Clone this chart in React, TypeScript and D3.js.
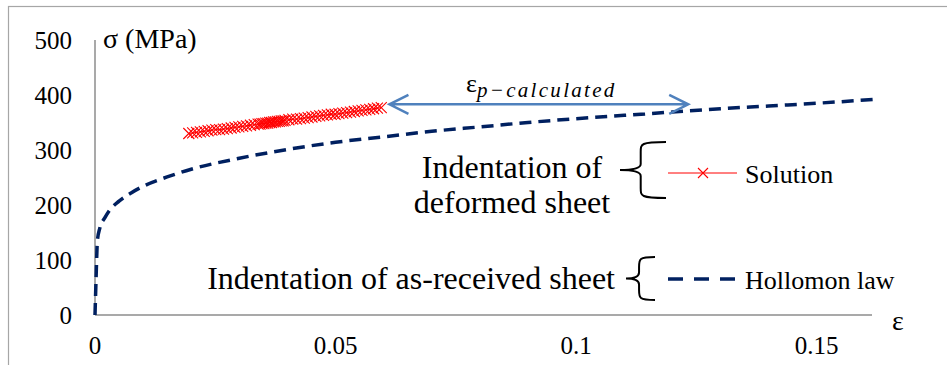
import React, { useEffect, useRef } from 'react';
import * as d3 from 'd3';

// Hollomon law curve
const hollomonStrain = [0, 0.0002, 0.0005, 0.001, 0.002, 0.003, 0.005, 0.0075, 0.01, 0.015, 0.02, 0.03, 0.04, 0.05, 0.06, 0.07, 0.08, 0.09, 0.1, 0.11, 0.12, 0.13, 0.14, 0.15, 0.162];
const hollomonStress = [0, 60, 135, 158, 176, 190, 207, 222, 234, 251, 265, 285, 301, 314, 324, 334, 342, 350, 357, 363, 369, 375, 380, 385, 392];

// Solution points (indentation of deformed sheet)
const solutionStrain = [0.0195, 0.0203, 0.0211, 0.0219, 0.0227, 0.0235, 0.0243, 0.0251, 0.0259, 0.0267, 0.0275, 0.0283, 0.0291, 0.0299, 0.0307, 0.0315, 0.0323, 0.0331, 0.0339, 0.0343, 0.0347, 0.0351, 0.0355, 0.0359, 0.0363, 0.0367, 0.0371, 0.0375, 0.0379, 0.0383, 0.0387, 0.0391, 0.0395, 0.0403, 0.0411, 0.0419, 0.0427, 0.0435, 0.0443, 0.0451, 0.0459, 0.0467, 0.0475, 0.0483, 0.0491, 0.0499, 0.0507, 0.0515, 0.0523, 0.0531, 0.0539, 0.0547, 0.0555, 0.0563, 0.0571, 0.0579, 0.0587, 0.0595];
const solutionStress = [330, 331, 332, 333, 334, 335, 336, 337, 337, 338, 339, 340, 341, 342, 343, 344, 345, 346, 347, 347, 348, 348, 349, 349, 350, 350, 351, 351, 352, 352, 353, 353, 354, 355, 356, 356, 357, 358, 359, 360, 361, 362, 363, 364, 365, 365, 366, 367, 368, 369, 370, 371, 372, 373, 374, 375, 376, 377];

const xTicks = [0, 0.05, 0.1, 0.15];
const xTickLabels = ['0', '0.05', '0.1', '0.15'];
const yTicks = [0, 100, 200, 300, 400, 500];

// arrow for eps p-calculated, in data units
const arrowStrain = [0.0612, 0.1233];
const arrowStress = 383;

const serif = 'Liberation Serif';

function Chart() {
  const node = useRef<SVGSVGElement | null>(null);

  useEffect(() => {
    const svg = d3.select(node.current);
    svg.selectAll('*').remove();

    const x = d3.scaleLinear().domain([0, 0.1615]).range([95, 872]);
    const y = d3.scaleLinear().domain([0, 500]).range([315, 40]);

    // outer frame
    svg.append('rect')
      .attr('x', 8.5).attr('y', 6.5).attr('width', 960).attr('height', 400)
      .attr('fill', 'none').attr('stroke', '#a6a6a6').attr('stroke-width', 1.2);

    // axes
    svg.append('line')
      .attr('x1', x(0)).attr('x2', x(0)).attr('y1', y(500)).attr('y2', y(0))
      .attr('stroke', '#8c8c8c').attr('stroke-width', 1.5);
    svg.append('line')
      .attr('x1', x(0)).attr('x2', x.range()[1]).attr('y1', y(0)).attr('y2', y(0))
      .attr('stroke', '#8c8c8c').attr('stroke-width', 1.5);

    svg.selectAll('.ytick').data(yTicks).enter()
      .append('text')
      .attr('class', 'ytick')
      .attr('x', 72).attr('y', d => y(d) + 8.5)
      .attr('text-anchor', 'end')
      .style('font-family', serif).attr('font-size', 25)
      .text(d => d);

    svg.selectAll('.xtick').data(xTicks).enter()
      .append('text')
      .attr('class', 'xtick')
      .attr('x', d => x(d)).attr('y', 354)
      .attr('text-anchor', 'middle')
      .style('font-family', serif).attr('font-size', 25)
      .text((d, i) => xTickLabels[i]);

    svg.append('text')
      .attr('x', 103).attr('y', 48)
      .style('font-family', serif).attr('font-size', 28)
      .text('σ (MPa)');
    svg.append('text')
      .attr('x', 892).attr('y', 330)
      .style('font-family', serif).attr('font-size', 28)
      .text('ε');

    // Hollomon law curve
    const line = d3.line<number>()
      .x((d, i) => x(hollomonStrain[i]))
      .y(d => y(d))
      .curve(d3.curveMonotoneX);
    svg.append('path')
      .attr('d', line(hollomonStress))
      .attr('fill', 'none')
      .attr('stroke', '#002060')
      .attr('stroke-width', 3.5)
      .attr('stroke-dasharray', '12,7');

    // Solution series
    const sline = d3.line<number>()
      .x((d, i) => x(solutionStrain[i]))
      .y(d => y(d));
    svg.append('path')
      .attr('d', sline(solutionStress))
      .attr('fill', 'none')
      .attr('stroke', '#ff0000')
      .attr('stroke-width', 1);

    const cross = (cx: number, cy: number, m: number) =>
      `M${cx - m},${cy - m}L${cx + m},${cy + m}M${cx - m},${cy + m}L${cx + m},${cy - m}`;
    svg.selectAll('.marker').data(solutionStress).enter()
      .append('path')
      .attr('class', 'marker')
      .attr('d', (d, i) => cross(x(solutionStrain[i]), y(d), 5.5))
      .attr('stroke', '#ff0000')
      .attr('stroke-width', 1.1)
      .attr('fill', 'none');

    // double arrow
    const ax1 = x(arrowStrain[0]);
    const ax2 = x(arrowStrain[1]);
    const ay = y(arrowStress);
    svg.append('path')
      .attr('d', `M${ax1},${ay}L${ax2},${ay}M${ax1 + 19},${ay - 9.5}L${ax1},${ay}L${ax1 + 19},${ay + 9.5}M${ax2 - 19},${ay - 9.5}L${ax2},${ay}L${ax2 - 19},${ay + 9.5}`)
      .attr('fill', 'none')
      .attr('stroke', '#4f81bd')
      .attr('stroke-width', 2.5);

    const lab = svg.append('text')
      .attr('x', 466).attr('y', 92)
      .style('font-family', serif);
    lab.append('tspan').attr('font-size', 26).text('ε');
    lab.append('tspan')
      .attr('font-size', 21).attr('font-style', 'italic').attr('dy', 5)
      .attr('letter-spacing', 2.3)
      .text('p−calculated');

    // annotations
    const brace = (x0: number, yTop: number, yBot: number, w: number) => {
      const ym = (yTop + yBot) / 2;
      const xm = x0 + w * 0.45;
      return `M${x0 + w},${yTop} C${xm},${yTop} ${xm},${yTop + 2} ${xm},${yTop + 10} L${xm},${ym - 6} C${xm},${ym - 1} ${x0 + w * 0.2},${ym} ${x0},${ym} C${x0 + w * 0.2},${ym} ${xm},${ym + 1} ${xm},${ym + 6} L${xm},${yBot - 10} C${xm},${yBot - 2} ${xm},${yBot} ${x0 + w},${yBot}`;
    };

    svg.append('text')
      .attr('x', 512).attr('y', 178)
      .attr('text-anchor', 'middle')
      .style('font-family', serif).attr('font-size', 32)
      .text('Indentation of');
    svg.append('text')
      .attr('x', 512).attr('y', 213)
      .attr('text-anchor', 'middle')
      .style('font-family', serif).attr('font-size', 32)
      .text('deformed sheet');
    svg.append('path')
      .attr('d', brace(620, 142, 198, 46))
      .attr('fill', 'none').attr('stroke', '#000').attr('stroke-width', 2);
    svg.append('line')
      .attr('x1', 668).attr('x2', 737).attr('y1', 173).attr('y2', 173)
      .attr('stroke', '#ff0000').attr('stroke-width', 1);
    svg.append('path')
      .attr('d', cross(703, 173, 5))
      .attr('stroke', '#ff0000').attr('stroke-width', 1.1).attr('fill', 'none');
    svg.append('text')
      .attr('x', 745).attr('y', 183)
      .style('font-family', serif).attr('font-size', 26)
      .text('Solution');

    svg.append('text')
      .attr('x', 615).attr('y', 289)
      .attr('text-anchor', 'end')
      .style('font-family', serif).attr('font-size', 32)
      .text('Indentation of as-received sheet');
    svg.append('path')
      .attr('d', brace(626, 257, 300, 29))
      .attr('fill', 'none').attr('stroke', '#000').attr('stroke-width', 2);
    svg.append('line')
      .attr('x1', 668).attr('x2', 737).attr('y1', 279).attr('y2', 279)
      .attr('stroke', '#002060').attr('stroke-width', 3.5)
      .attr('stroke-dasharray', '15,11');
    svg.append('text')
      .attr('x', 745).attr('y', 289)
      .style('font-family', serif).attr('font-size', 26)
      .text('Hollomon law');
  }, []);

  return (
    <svg ref={node} width={947} height={365}
      style={{ position: 'absolute', left: 0, top: 0, background: '#fff' }} />
  );
}

export default function App() {
  return <Chart />;
}
